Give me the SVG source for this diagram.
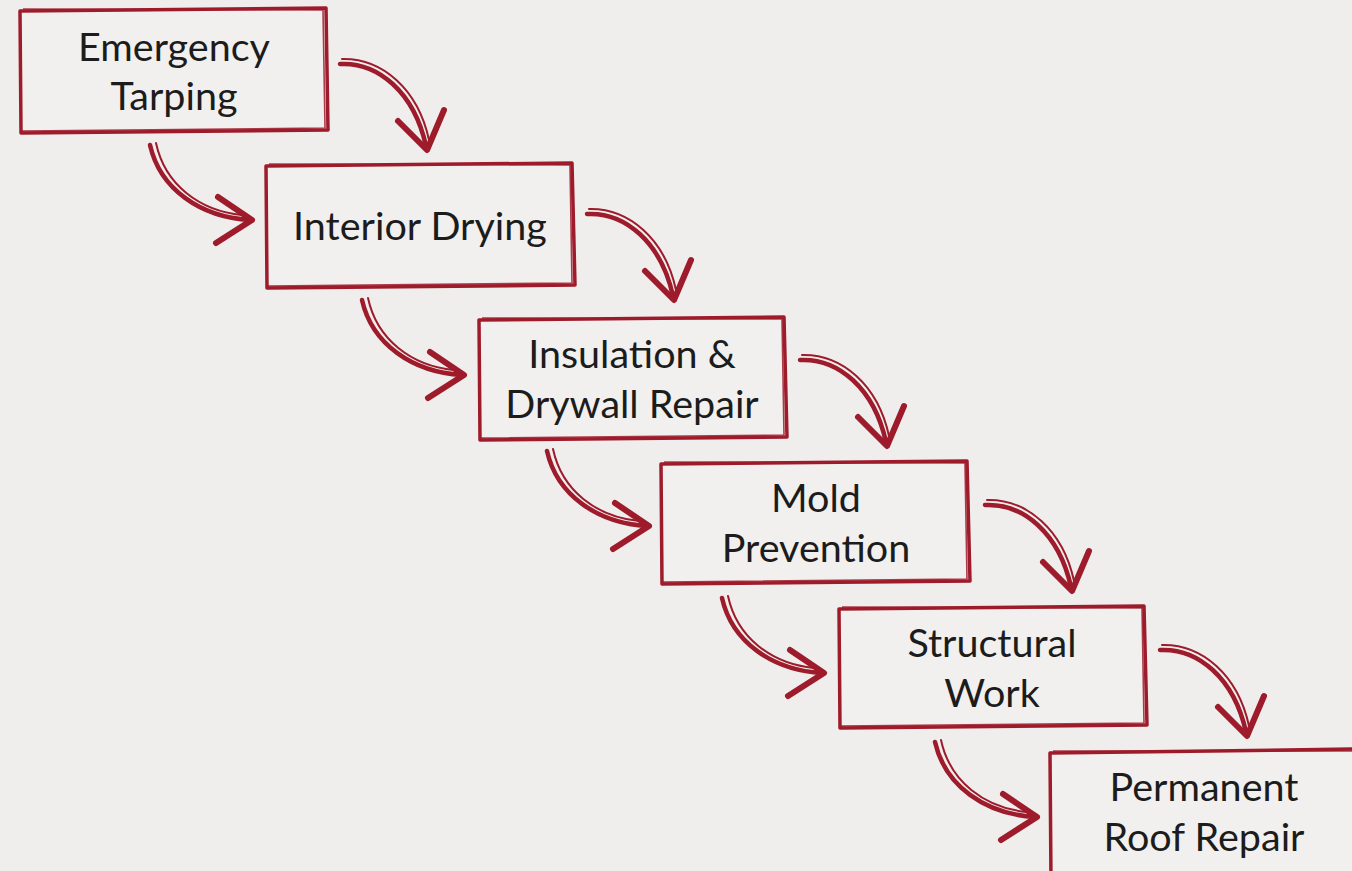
<svg xmlns="http://www.w3.org/2000/svg" xmlns:xlink="http://www.w3.org/1999/xlink" width="1352" height="871" viewBox="0 0 1352 871">
<style>
.bg{fill:#efeeec}
.box{fill:#f1f0ee;stroke:#9e1b2b;stroke-width:3.5;stroke-linejoin:round}
.box2{fill:none;stroke:#9e1b2b;stroke-width:1.6;opacity:0.85}
.lbl{font-family:Lato,"Open Sans","Liberation Sans",sans-serif;font-size:39.5px;fill:#1c1c1c;text-anchor:middle}
.ar{fill:none;stroke:#9e1b2b;stroke-width:4.5;stroke-linecap:round;stroke-linejoin:round}
.ar2{fill:none;stroke:#9e1b2b;stroke-width:2;stroke-linecap:round}
.head{fill:none;stroke:#9e1b2b;stroke-width:6;stroke-linecap:round;stroke-linejoin:round}
</style>
<defs>
<g id="rarrow">
<path class="ar" d="M0,0 C38,-2 74,28 86,82"/>
<path class="ar2" d="M2,-5 C42,-6 78,25 89,76"/>
<path class="head" d="M58,57 L87,86 L104,46"/>
</g>
<g id="larrow">
<path class="ar" d="M0,0 C10,44 50,72 100,75"/>
<path class="ar2" d="M6,-2 C15,40 50,66 92,70"/>
<path class="head" d="M68,52 L102,75 L66,98"/>
</g>
</defs>
<rect class="bg" x="0" y="0" width="1352" height="871"/>
<g id="connectors">
<use xlink:href="#rarrow" transform="translate(340,64)"/>
<use xlink:href="#larrow" transform="translate(150,145)"/>
<use xlink:href="#rarrow" transform="translate(587,214)"/>
<use xlink:href="#larrow" transform="translate(362,300)"/>
<use xlink:href="#rarrow" transform="translate(800,360)"/>
<use xlink:href="#larrow" transform="translate(547,451)"/>
<use xlink:href="#rarrow" transform="translate(985,505)"/>
<use xlink:href="#larrow" transform="translate(722,598)"/>
<use xlink:href="#rarrow" transform="translate(1160,650)"/>
<use xlink:href="#larrow" transform="translate(935,742)"/>
</g>
<g id="n1">
<path class="box" d="M20,11 L326,8 L328,130 L21,133 Z"/>
<path class="box2" d="M23,9 L323,10 L325,128 L22,131"/>
<text class="lbl" x="174" y="61">Emergency</text>
<text class="lbl" x="174" y="110">Tarping</text>
</g>
<g id="n2">
<path class="box" d="M266,166 L572,163 L575,285 L267,288 Z"/>
<path class="box2" d="M269,164 L570,165 L572,283 L268,286"/>
<text class="lbl" x="420" y="240">Interior Drying</text>
</g>
<g id="n3">
<path class="box" d="M479,320 L784,317 L787,437 L480,440 Z"/>
<path class="box2" d="M482,318 L782,319 L784,435 L481,438"/>
<text class="lbl" x="632" y="368">Insulation &amp;</text>
<text class="lbl" x="632" y="418">Drywall Repair</text>
</g>
<g id="n4">
<path class="box" d="M661,464 L967,461 L970,581 L662,584 Z"/>
<path class="box2" d="M664,462 L965,463 L967,579 L663,582"/>
<text class="lbl" x="816" y="512">Mold</text>
<text class="lbl" x="816" y="562">Prevention</text>
</g>
<g id="n5">
<path class="box" d="M839,609 L1144,606 L1147,725 L840,728 Z"/>
<path class="box2" d="M842,607 L1142,608 L1144,723 L841,726"/>
<text class="lbl" x="992" y="657">Structural</text>
<text class="lbl" x="992" y="707">Work</text>
</g>
<g id="n6">
<path class="box" d="M1050,753 L1360,749 L1362,880 L1051,882 Z"/>
<path class="box2" d="M1053,751 L1358,751"/>
<text class="lbl" x="1204" y="801">Permanent</text>
<text class="lbl" x="1204" y="851">Roof Repair</text>
</g>
</svg>
